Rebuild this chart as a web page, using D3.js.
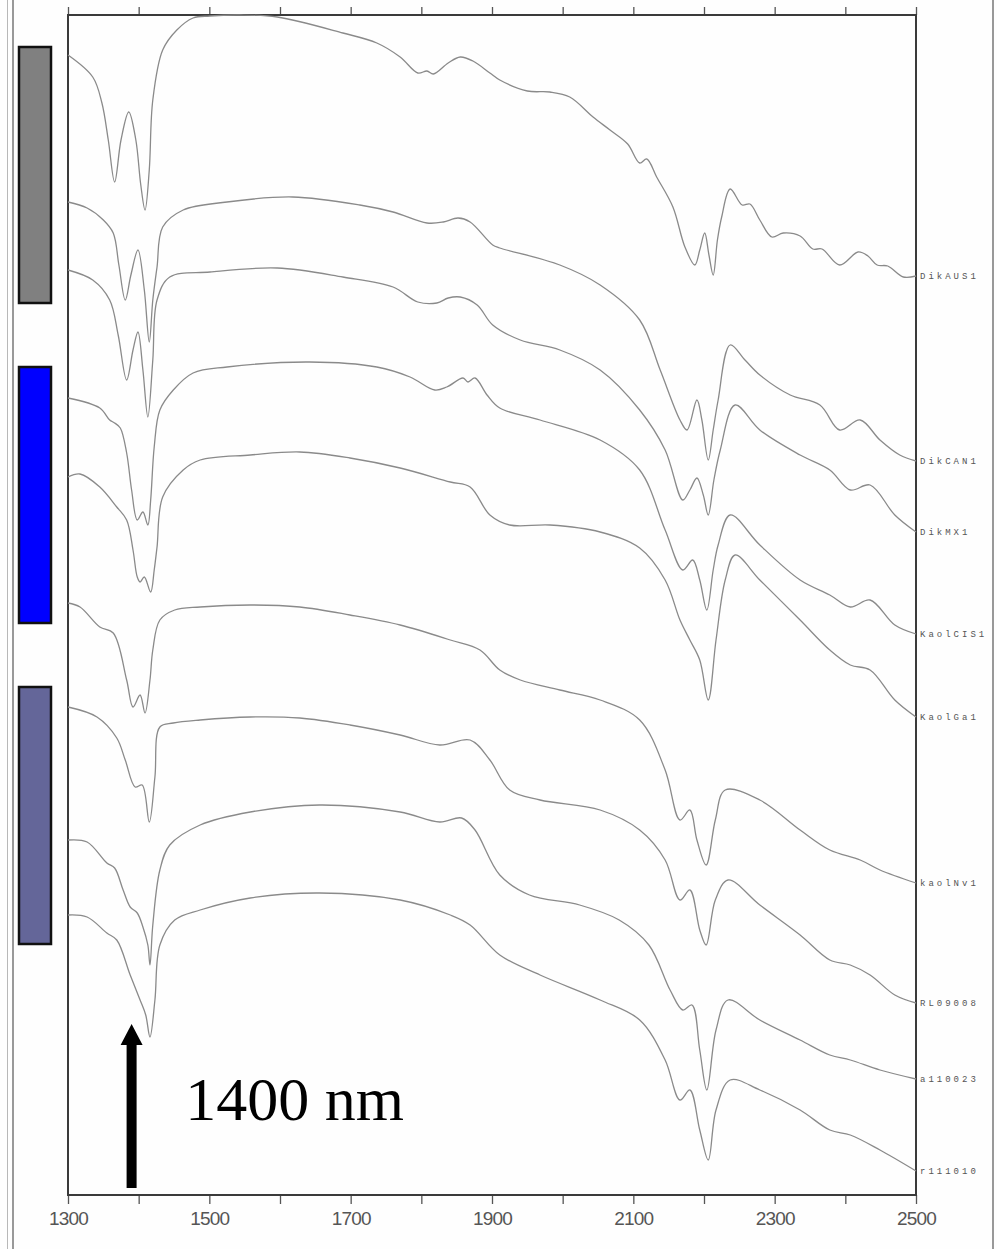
<!DOCTYPE html>
<html>
<head>
<meta charset="utf-8">
<script src="https://cdn.jsdelivr.net/npm/d3@7/dist/d3.min.js"></script>
<style>
  html, body { margin: 0; padding: 0; background: #ffffff; }
  svg { display: block; }
</style>
</head>
<body>
<svg id="chart" width="997" height="1249"></svg>
<script>
// ---------- DATA ----------
const wavelengthTicks = [1300, 1400, 1500, 1600, 1700, 1800, 1900, 2000, 2100, 2200, 2300, 2400, 2500];
const tickLabels = ["1300", "1500", "1700", "1900", "2100", "2300", "2500"];
const sampleNames = ["DikAUS1", "DikCAN1", "DikMX1", "KaolCIS1", "KaolGa1", "kaolNv1", "RL09008", "a110023", "r111010"];
const groupColors = ["#808080", "#0000ff", "#646699"];
const annotationText = "1400 nm";
const annotationWavelength = 1390;

// spectra: [wavelength nm, offset reflectance (relative units)]
const dikAUS1 = [[1300,114.0],[1335,111.8],[1348,109.2],[1357,105.5],[1366,101.3],[1375,105.5],[1386,108.3],[1396,105.5],[1403,101.0],[1409,98.5],[1415,102.5],[1420,109.5],[1434,114.5],[1454,116.5],[1477,117.7],[1501,117.9],[1543,118.0],[1596,117.8],[1689,116.2],[1737,115.2],[1770,113.8],[1795,112.2],[1808,112.4],[1817,112.1],[1838,113.2],[1855,113.8],[1873,113.4],[1897,112.2],[1911,111.5],[1950,110.4],[1982,110.3],[2010,109.8],[2043,107.8],[2067,106.5],[2092,105.1],[2109,103.2],[2119,103.6],[2133,101.8],[2156,98.8],[2173,94.8],[2187,93.0],[2194,94.5],[2201,96.2],[2207,94.0],[2213,92.0],[2219,95.5],[2225,97.8],[2237,100.6],[2254,99.0],[2265,99.1],[2279,97.5],[2296,95.8],[2312,96.2],[2336,95.9],[2354,94.6],[2367,94.6],[2392,93.0],[2418,94.3],[2432,93.9],[2445,93.0],[2460,92.9],[2482,91.8],[2500,91.9]];
const dikCAN1 = [[1300,99.3],[1327,98.7],[1350,97.5],[1364,96.2],[1372,93.0],[1381,89.5],[1389,92.0],[1399,94.5],[1408,90.5],[1415,85.3],[1420,89.5],[1426,92.8],[1434,96.8],[1463,98.5],[1525,99.3],[1618,99.8],[1713,99.0],[1760,98.3],[1808,97.2],[1831,97.3],[1852,97.7],[1869,97.3],[1901,95.0],[1911,94.7],[1996,93.0],[2053,91.0],[2109,87.5],[2138,82.5],[2166,77.5],[2176,76.5],[2190,79.5],[2197,77.5],[2206,73.5],[2213,76.5],[2220,79.5],[2237,85.0],[2258,83.5],[2279,82.0],[2322,80.0],[2364,79.0],[2392,76.5],[2421,77.5],[2449,75.5],[2477,74.0],[2500,73.4]];
const dikMX1 = [[1300,92.5],[1335,91.5],[1359,89.5],[1371,86.0],[1383,81.5],[1392,84.5],[1399,86.3],[1406,82.5],[1413,77.8],[1420,83.5],[1426,89.5],[1444,91.8],[1501,92.3],[1596,92.7],[1689,91.8],[1760,90.8],[1795,89.3],[1822,89.2],[1838,89.7],[1855,89.8],[1879,89.0],[1901,87.0],[1940,85.5],[1996,84.5],[2053,82.5],[2109,78.5],[2145,74.5],[2170,69.5],[2180,70.5],[2190,71.7],[2199,70.0],[2206,68.0],[2214,71.5],[2223,74.5],[2244,79.0],[2279,76.5],[2336,74.0],[2378,72.5],[2407,70.5],[2435,71.0],[2470,68.0],[2500,66.3]];
const kaolCIS1 = [[1300,79.7],[1345,78.7],[1359,77.5],[1366,77.2],[1374,76.7],[1383,74.2],[1390,70.5],[1398,67.5],[1406,68.3],[1413,67.0],[1417,69.5],[1422,74.8],[1430,78.5],[1449,80.5],[1477,82.2],[1525,82.8],[1642,83.3],[1737,82.8],[1784,81.8],[1819,80.5],[1836,80.8],[1859,81.7],[1866,81.3],[1876,81.7],[1893,80.0],[1911,78.7],[1968,77.5],[2053,75.5],[2109,72.5],[2145,66.5],[2170,62.5],[2184,63.5],[2194,61.5],[2204,58.5],[2213,62.5],[2220,65.0],[2237,68.0],[2279,65.0],[2336,61.5],[2378,60.0],[2407,58.8],[2435,59.5],[2470,57.0],[2500,56.1]];
const kaolGa1 = [[1300,71.8],[1317,72.1],[1345,70.8],[1369,68.8],[1383,67.5],[1392,64.5],[1398,61.8],[1402,61.3],[1408,61.8],[1417,60.3],[1422,62.5],[1426,64.8],[1434,69.8],[1463,72.5],[1487,73.5],[1558,74.0],[1628,74.3],[1699,73.7],[1770,72.7],[1841,71.3],[1869,70.8],[1897,68.0],[1925,67.0],[1982,67.0],[2053,66.3],[2109,64.7],[2145,61.5],[2166,57.5],[2180,55.5],[2194,53.5],[2206,49.5],[2217,55.5],[2230,61.5],[2244,64.0],[2279,61.5],[2336,57.5],[2378,54.5],[2407,53.0],[2435,52.5],[2470,49.5],[2500,47.8]];
const kaolNv1 = [[1300,59.2],[1317,58.8],[1345,56.8],[1364,56.2],[1383,51.5],[1392,48.8],[1402,50.0],[1409,48.2],[1416,51.5],[1420,54.5],[1430,57.5],[1451,58.5],[1487,58.8],[1558,59.0],[1628,58.8],[1699,58.0],[1770,57.0],[1841,55.5],[1883,54.5],[1911,52.5],[1940,51.5],[1996,50.5],[2053,49.5],[2109,47.5],[2145,42.5],[2166,37.5],[2180,38.5],[2190,35.5],[2203,33.0],[2216,37.5],[2230,40.5],[2279,39.5],[2336,36.5],[2378,34.5],[2421,33.5],[2449,32.5],[2500,31.2]];
const rl09008 = [[1300,48.8],[1341,47.8],[1369,45.7],[1381,43.5],[1395,40.8],[1405,41.0],[1415,37.3],[1423,41.8],[1430,46.8],[1449,47.2],[1487,47.5],[1558,47.8],[1628,47.7],[1699,47.0],[1770,46.0],[1826,45.0],[1869,45.5],[1897,43.5],[1925,40.5],[1968,39.5],[2053,38.5],[2109,36.5],[2145,33.5],[2166,29.5],[2180,30.5],[2194,26.5],[2203,25.0],[2216,29.5],[2234,31.5],[2279,29.0],[2336,26.0],[2378,23.5],[2407,23.0],[2435,22.0],[2470,20.0],[2500,19.2]];
const a110023 = [[1300,35.5],[1327,35.3],[1355,33.2],[1366,32.7],[1378,30.5],[1388,28.8],[1398,28.2],[1406,26.8],[1413,25.0],[1416,23.0],[1420,27.0],[1430,32.5],[1444,35.0],[1487,37.0],[1558,38.3],[1656,39.0],[1770,38.3],[1826,37.3],[1857,37.7],[1876,36.5],[1911,32.0],[1953,30.0],[2024,29.0],[2080,27.5],[2122,25.0],[2152,20.5],[2170,18.5],[2183,19.0],[2194,14.5],[2204,10.5],[2217,16.5],[2234,19.5],[2279,17.5],[2336,15.5],[2378,14.0],[2407,13.5],[2449,12.5],[2500,11.6]];
const r111010 = [[1300,28.0],[1327,27.8],[1355,26.2],[1369,25.5],[1388,22.0],[1402,19.5],[1410,18.0],[1416,15.8],[1423,19.5],[1430,25.0],[1451,27.5],[1487,28.5],[1558,29.7],[1656,30.2],[1770,29.5],[1841,28.0],[1869,27.0],[1911,24.0],[1968,22.0],[2053,19.5],[2109,17.5],[2145,13.5],[2166,9.5],[2180,10.5],[2194,6.5],[2206,3.5],[2217,8.5],[2237,11.5],[2279,10.5],[2336,8.5],[2378,6.5],[2407,6.0],[2449,4.5],[2500,2.4]];

const spectra = [dikAUS1, dikCAN1, dikMX1, kaolCIS1, kaolGa1, kaolNv1, rl09008, a110023, r111010];

// ---------- LAYOUT ----------
const svg = d3.select("#chart");
const W = 997, H = 1249;
const plot = { left: 68, right: 916, top: 15, bottom: 1195 };

svg.append("rect").attr("width", W).attr("height", H).attr("fill", "#fefefe");

// page border lines
svg.append("line").attr("x1", 7.5).attr("x2", 7.5).attr("y1", 0).attr("y2", H).attr("stroke", "#b8b8b8").attr("stroke-width", 1);
svg.append("line").attr("x1", 13).attr("x2", 13).attr("y1", 0).attr("y2", H).attr("stroke", "#777").attr("stroke-width", 1.5);
svg.append("line").attr("x1", 993).attr("x2", 993).attr("y1", 0).attr("y2", H).attr("stroke", "#777").attr("stroke-width", 1.5);

const x = d3.scaleLinear().domain([1300, 2500]).range([plot.left, plot.right]);
const y = d3.scaleLinear().domain([0, 118]).range([plot.bottom, plot.top]);

// group colour blocks (left side)
const blocks = [
  { c: groupColors[0], y0: 47, y1: 303 },
  { c: groupColors[1], y0: 367, y1: 623 },
  { c: groupColors[2], y0: 687, y1: 944 }
];
svg.selectAll("rect.block").data(blocks).enter().append("rect")
  .attr("class", "block")
  .attr("x", 19).attr("width", 32)
  .attr("y", d => d.y0).attr("height", d => d.y1 - d.y0)
  .attr("fill", d => d.c).attr("stroke", "#111").attr("stroke-width", 2.5);

// axes
const bottomAxis = d3.axisBottom(x).tickValues(wavelengthTicks).tickSize(9).tickSizeOuter(0)
  .tickFormat(d => tickLabels.includes(String(d)) ? String(d) : "");
const gB = svg.append("g").attr("transform", `translate(0,${plot.bottom})`).call(bottomAxis);
gB.select(".domain").remove();
gB.selectAll(".tick line").attr("stroke", "#555").attr("stroke-width", 1.3);
gB.selectAll(".tick text").attr("y", 30).attr("dy", 0)
  .attr("font-family", "'Liberation Sans', Arial, sans-serif").attr("font-size", 19)
  .attr("letter-spacing", "-0.8").attr("fill", "#555");

const topAxis = d3.axisTop(x).tickValues(wavelengthTicks).tickSize(8).tickSizeOuter(0).tickFormat("");
const gT = svg.append("g").attr("transform", `translate(0,${plot.top})`).call(topAxis);
gT.select(".domain").remove();
gT.selectAll(".tick line").attr("stroke", "#555").attr("stroke-width", 1.3);

// frame
svg.append("rect").attr("x", plot.left).attr("y", plot.top)
  .attr("width", plot.right - plot.left).attr("height", plot.bottom - plot.top)
  .attr("fill", "none").attr("stroke", "#3a3a3a").attr("stroke-width", 2);

// spectra
const line = d3.line().x(d => x(d[0])).y(d => y(d[1])).curve(d3.curveCatmullRom.alpha(0.5));
svg.selectAll("path.spec").data(spectra).enter().append("path")
  .attr("class", "spec")
  .attr("d", line)
  .attr("fill", "none").attr("stroke", "#8a8a8a").attr("stroke-width", 1.3);

// sample labels
svg.selectAll("text.lab").data(spectra).enter().append("text")
  .attr("class", "lab")
  .attr("x", x(2500) + 4)
  .attr("y", d => y(d[d.length - 1][1]))
  .attr("dy", "0.35em")
  .attr("font-family", "'Liberation Mono', 'DejaVu Sans Mono', monospace")
  .attr("font-size", 9).attr("letter-spacing", "3").attr("fill", "#555")
  .text((d, i) => sampleNames[i]);

// annotation arrow
const ax = x(annotationWavelength);
const aTop = y(17.1), aBot = y(0.7);
const p = d3.path();
p.moveTo(ax - 5, aBot); p.lineTo(ax - 5, aTop + 21); p.lineTo(ax - 11, aTop + 21);
p.lineTo(ax, aTop); p.lineTo(ax + 11, aTop + 21); p.lineTo(ax + 5, aTop + 21); p.lineTo(ax + 5, aBot); p.closePath();
svg.append("path").attr("d", p.toString()).attr("fill", "#000");

svg.append("text").attr("x", x(1466)).attr("y", y(7.5))
  .attr("font-family", "'Liberation Serif', 'Times New Roman', serif")
  .attr("font-size", 62).attr("fill", "#000").text(annotationText);
</script>
</body>
</html>
